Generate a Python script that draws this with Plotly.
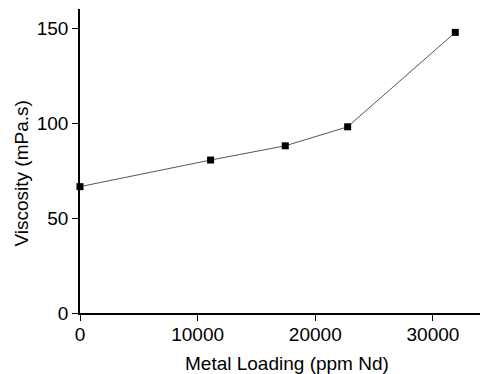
import plotly.graph_objects as go

# Viscosity versus neodymium metal loading
metal_loading_ppm = [0, 11100, 17450, 22750, 31900]
viscosity_mpas = [66.5, 80.5, 88.0, 98.0, 147.7]

x_ticks = [0, 10000, 20000, 30000]
x_tick_labels = ["0", "10000", "20000", "30000"]
y_ticks = [0, 50, 100, 150]
y_tick_labels = ["0", "50", "100", "150"]

FONT = "Liberation Sans, Arial"

fig = go.Figure()
fig.add_trace(go.Scatter(
    x=metal_loading_ppm,
    y=viscosity_mpas,
    mode="lines+markers",
    line=dict(color="#555555", width=1),
    marker=dict(symbol="square", size=7, color="black"),
    cliponaxis=False,
    showlegend=False,
))

axis_common = dict(
    showline=True,
    linecolor="black",
    linewidth=1.5,
    ticks="outside",
    ticklen=6,
    tickcolor="black",
    tickwidth=1,
    showgrid=False,
    zeroline=False,
    tickfont=dict(family=FONT, size=19, color="black"),
)

fig.update_xaxes(range=[0, 34000], tickvals=x_ticks, ticktext=x_tick_labels,
                 ticklabelstandoff=-3, **axis_common)
fig.update_yaxes(range=[0, 160], tickvals=y_ticks, ticktext=y_tick_labels, **axis_common)

# Axis titles
fig.add_annotation(
    text="Metal Loading (ppm Nd)", xref="paper", yref="paper",
    x=0.5175, y=-0.165, xanchor="center", yanchor="middle",
    showarrow=False, font=dict(family=FONT, size=19, color="black"),
)
fig.add_annotation(
    text="Viscosity (mPa.s)", xref="paper", yref="paper",
    x=-0.145, y=0.4588, xanchor="center", yanchor="middle", textangle=-90,
    showarrow=False, font=dict(family=FONT, size=19, color="black"),
)

fig.update_layout(
    width=481,
    height=374,
    margin=dict(l=80, r=1, t=9, b=61),
    plot_bgcolor="white",
    paper_bgcolor="white",
)

fig.write_html("out.html")
